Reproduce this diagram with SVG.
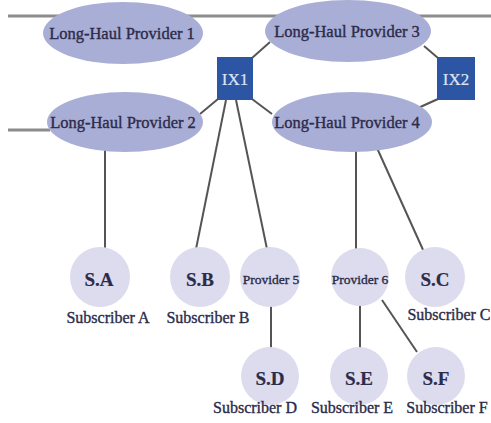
<svg xmlns="http://www.w3.org/2000/svg" width="491" height="423" viewBox="0 0 491 423">
  <style>
    .bg { fill: #ffffff; }
    .trunk { stroke: #8c8c8c; stroke-width: 3; fill: none; }
    .link { stroke: #555555; stroke-width: 2; fill: none; }
    .lh { fill: #a9aed6; }
    .ix { fill: #2c56a3; }
    .sub { fill: #dcdcee; }
    .lbl { font-family: "Liberation Serif", "Times New Roman", serif; fill: #2b2b4a; stroke: #2b2b4a; stroke-width: 0.35; text-anchor: middle; }
    .lhText { font-size: 16.5px; }
    .ixText { font-size: 17px; fill: #dfe4f5; stroke: #dfe4f5; stroke-width: 0.2; }
    .sText { font-size: 19px; font-weight: bold; stroke-width: 0.2; }
    .pText { font-size: 13.5px; }
    .cap { font-size: 16px; }
  </style>
  <rect class="bg" x="0" y="0" width="491" height="423"/>

  <g id="connectors">
    <line class="trunk" x1="8" y1="16" x2="491" y2="16"/>
    <line class="trunk" x1="8" y1="130" x2="50" y2="130"/>
    <line class="link" x1="252" y1="58" x2="270" y2="42"/>
    <line class="link" x1="218" y1="99" x2="200" y2="114"/>
    <line class="link" x1="252" y1="99" x2="272" y2="114"/>
    <line class="link" x1="438" y1="58" x2="424" y2="46"/>
    <line class="link" x1="438" y1="99" x2="418" y2="108"/>
    <line class="link" x1="105" y1="150" x2="105" y2="248"/>
    <line class="link" x1="226" y1="100" x2="196" y2="249"/>
    <line class="link" x1="236" y1="100" x2="267" y2="249"/>
    <line class="link" x1="356" y1="150" x2="356" y2="249"/>
    <line class="link" x1="377" y1="148" x2="424" y2="252"/>
    <line class="link" x1="271" y1="305" x2="271" y2="348"/>
    <line class="link" x1="360" y1="305" x2="360" y2="348"/>
    <line class="link" x1="382" y1="300" x2="417" y2="352"/>
  </g>

  <g id="lhp1">
    <ellipse class="lh" cx="123" cy="33" rx="80" ry="31"/>
    <text class="lbl lhText" x="122" y="39">Long-Haul Provider 1</text>
  </g>
  <g id="lhp3">
    <ellipse class="lh" cx="348" cy="31" rx="83" ry="31"/>
    <text class="lbl lhText" x="347" y="37">Long-Haul Provider 3</text>
  </g>
  <g id="lhp2">
    <ellipse class="lh" cx="125" cy="122" rx="78" ry="30"/>
    <text class="lbl lhText" x="123" y="128">Long-Haul Provider 2</text>
  </g>
  <g id="lhp4">
    <ellipse class="lh" cx="352" cy="122" rx="80" ry="30"/>
    <text class="lbl lhText" x="347" y="128">Long-Haul Provider 4</text>
  </g>

  <g id="ix1">
    <rect class="ix" x="217" y="57" width="36" height="43"/>
    <text class="lbl ixText" x="235" y="85">IX1</text>
  </g>
  <g id="ix2">
    <rect class="ix" x="437" y="57" width="38" height="43"/>
    <text class="lbl ixText" x="456" y="85">IX2</text>
  </g>

  <g id="sa">
    <circle class="sub" cx="100" cy="277" r="30"/>
    <text class="lbl sText" x="99" y="286">S.A</text>
    <text class="lbl cap" x="108" y="323">Subscriber A</text>
  </g>
  <g id="sb">
    <circle class="sub" cx="200" cy="277" r="30"/>
    <text class="lbl sText" x="200" y="286">S.B</text>
    <text class="lbl cap" x="208" y="323">Subscriber B</text>
  </g>
  <g id="p5">
    <circle class="sub" cx="270" cy="277" r="30"/>
    <text class="lbl pText" x="271" y="284">Provider 5</text>
  </g>
  <g id="p6">
    <circle class="sub" cx="360" cy="277" r="29"/>
    <text class="lbl pText" x="360" y="284">Provider 6</text>
  </g>
  <g id="sc">
    <circle class="sub" cx="435" cy="277" r="30"/>
    <text class="lbl sText" x="435" y="286">S.C</text>
    <text class="lbl cap" x="449" y="320">Subscriber C</text>
  </g>
  <g id="sd">
    <circle class="sub" cx="270" cy="376" r="29"/>
    <text class="lbl sText" x="270" y="385">S.D</text>
    <text class="lbl cap" x="255" y="413">Subscriber D</text>
  </g>
  <g id="se">
    <circle class="sub" cx="359" cy="376" r="29"/>
    <text class="lbl sText" x="359" y="385">S.E</text>
    <text class="lbl cap" x="352" y="413">Subscriber E</text>
  </g>
  <g id="sf">
    <circle class="sub" cx="436" cy="376" r="29"/>
    <text class="lbl sText" x="436" y="385">S.F</text>
    <text class="lbl cap" x="447" y="413">Subscriber F</text>
  </g>
</svg>
